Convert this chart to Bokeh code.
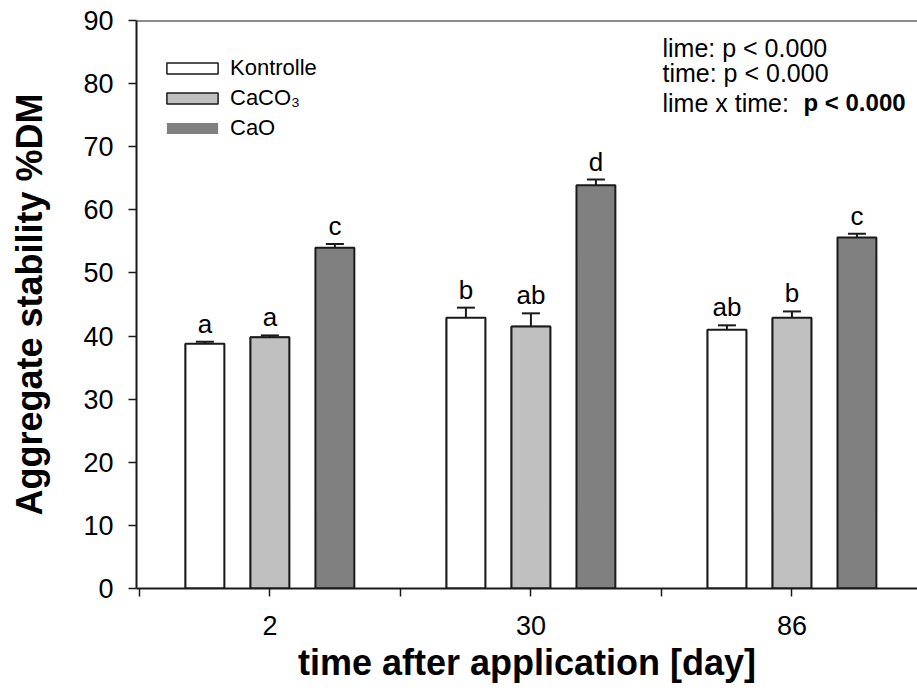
from bokeh.plotting import figure
from bokeh.models import (ColumnDataSource, Whisker, TeeHead, FixedTicker, Span, Label,
                          Range1d)
from bokeh.core.properties import value
from bokeh.embed import file_html
from bokeh.resources import INLINE

# ---- data ----
days = ["2", "30", "86"]
series = ["Kontrolle", "CaCO₃", "CaO"]
kontrolle = [38.8, 42.9, 41.0]
kontrolle_err = [0.3, 1.6, 0.7]
caco3 = [39.8, 41.5, 42.9]
caco3_err = [0.3, 2.1, 1.0]
cao = [54.0, 63.9, 55.6]
cao_err = [0.6, 0.9, 0.6]
kontrolle_letters = ["a", "b", "ab"]
caco3_letters = ["a", "ab", "b"]
cao_letters = ["c", "d", "c"]
stats_lines = ["lime: p < 0.000", "time: p < 0.000", "lime x time: "]
stats_bold = "p < 0.000"
y_ticks = [0, 10, 20, 30, 40, 50, 60, 70, 80, 90]
x_title = "time after application [day]"
y_title = "Aggregate stability %DM"

# ---- style ----
FONT = "Liberation Sans"
colors = ["#ffffff", "#c0c0c0", "#808080"]
legend_lines = ["#1a1a1a", "#1a1a1a", None]
offsets = [-0.249, 0.0, 0.249]
bar_w = 0.149
INK = "#1a1a1a"

p = figure(width=917, height=697, output_backend="svg", toolbar_location=None,
           x_range=Range1d(-0.511, 2.481), y_range=Range1d(0, 90),
           min_border_left=136, min_border_top=20, min_border_right=0,
           min_border_bottom=109)
p.outline_line_color = None
p.xgrid.visible = False
p.ygrid.visible = False
p.background_fill_color = "white"
p.border_fill_color = "white"

vals = [kontrolle, caco3, cao]
errs = [kontrolle_err, caco3_err, cao_err]
lets = [kontrolle_letters, caco3_letters, cao_letters]

for k in range(3):
    xs = [i + offsets[k] for i in range(len(days))]
    src = ColumnDataSource(dict(x=xs, top=vals[k],
                                upper=[v + e for v, e in zip(vals[k], errs[k])],
                                letter=lets[k]))
    # fill layer, also provides the legend key
    p.vbar(x="x", top="top", bottom=0, width=bar_w, source=src,
           fill_color=colors[k], line_color=legend_lines[k], line_width=1.5,
           legend_label=series[k])
    # outlined bars on top
    p.vbar(x="x", top="top", bottom=0, width=bar_w, source=src,
           fill_color=colors[k], line_color=INK, line_width=2)
    w = Whisker(source=src, base="x", lower="top", upper="upper",
                line_color=INK, line_width=2,
                upper_head=TeeHead(size=18, line_color=INK, line_width=2),
                lower_head=None)
    p.add_layout(w)
    p.text(x="x", y="upper", text="letter", source=src, y_offset=-3,
           text_align="center", text_baseline="bottom",
           text_font=value(FONT), text_font_size="26px", text_color="black")

# top frame line
p.add_layout(Span(location=90, dimension="width", line_color=INK, line_width=2))

# axes
xa = p.xaxis[0]
xa.ticker = FixedTicker(ticks=[0, 1, 2], minor_ticks=[-0.5, 0.5, 1.5, 2.5])
xa.major_label_overrides = {0: days[0], 1: days[1], 2: days[2]}
xa.major_tick_line_color = INK
xa.major_tick_line_width = 1.5
xa.major_tick_out = 8
xa.major_tick_in = 0
xa.minor_tick_out = 8
xa.minor_tick_in = 0
xa.minor_tick_line_color = INK
xa.minor_tick_line_width = 1.5
xa.axis_line_color = INK
xa.axis_line_width = 2
xa.major_label_text_font = FONT
xa.major_label_text_font_size = "27px"
xa.major_label_text_color = "black"
xa.major_label_standoff = 19
xa.axis_label = x_title
xa.axis_label_text_font = FONT
xa.axis_label_text_font_style = "bold"
xa.axis_label_text_font_size = "36px"
xa.axis_label_text_color = "black"
xa.axis_label_standoff = 4

ya = p.yaxis[0]
ya.ticker = FixedTicker(ticks=y_ticks, minor_ticks=[])
ya.major_tick_out = 8
ya.major_tick_in = 0
ya.major_tick_line_color = INK
ya.major_tick_line_width = 1.5
ya.axis_line_color = INK
ya.axis_line_width = 2
ya.major_label_text_font = FONT
ya.major_label_text_font_size = "27px"
ya.major_label_text_color = "black"
ya.major_label_standoff = 15
ya.axis_label = y_title
ya.axis_label_text_font = FONT
ya.axis_label_text_font_style = "bold"
ya.axis_label_text_font_size = "36px"
ya.axis_label_text_color = "black"
ya.axis_label_standoff = 30

# legend
lg = p.legend[0]
lg.location = (24, 445)
lg.border_line_color = None
lg.background_fill_alpha = 0
lg.padding = 0
lg.margin = 0
lg.spacing = 0
lg.glyph_width = 64
lg.glyph_height = 14
lg.label_height = 30
lg.label_standoff = 6
lg.label_text_font = FONT
lg.label_text_font_size = "22px"
lg.label_text_color = "black"

# stats text
base_ys = [541, 516, 486]
for t, yy in zip(stats_lines, base_ys):
    p.add_layout(Label(x=526, y=yy, x_units="screen", y_units="screen", text=t,
                       text_font=FONT, text_font_size="25px", text_color="black",
                       text_baseline="alphabetic"))
p.add_layout(Label(x=667, y=base_ys[2], x_units="screen", y_units="screen", text=stats_bold,
                   text_font=FONT, text_font_size="24px", text_font_style="bold",
                   text_color="black", text_baseline="alphabetic"))

open("out.html", "w").write(file_html(p, INLINE))
